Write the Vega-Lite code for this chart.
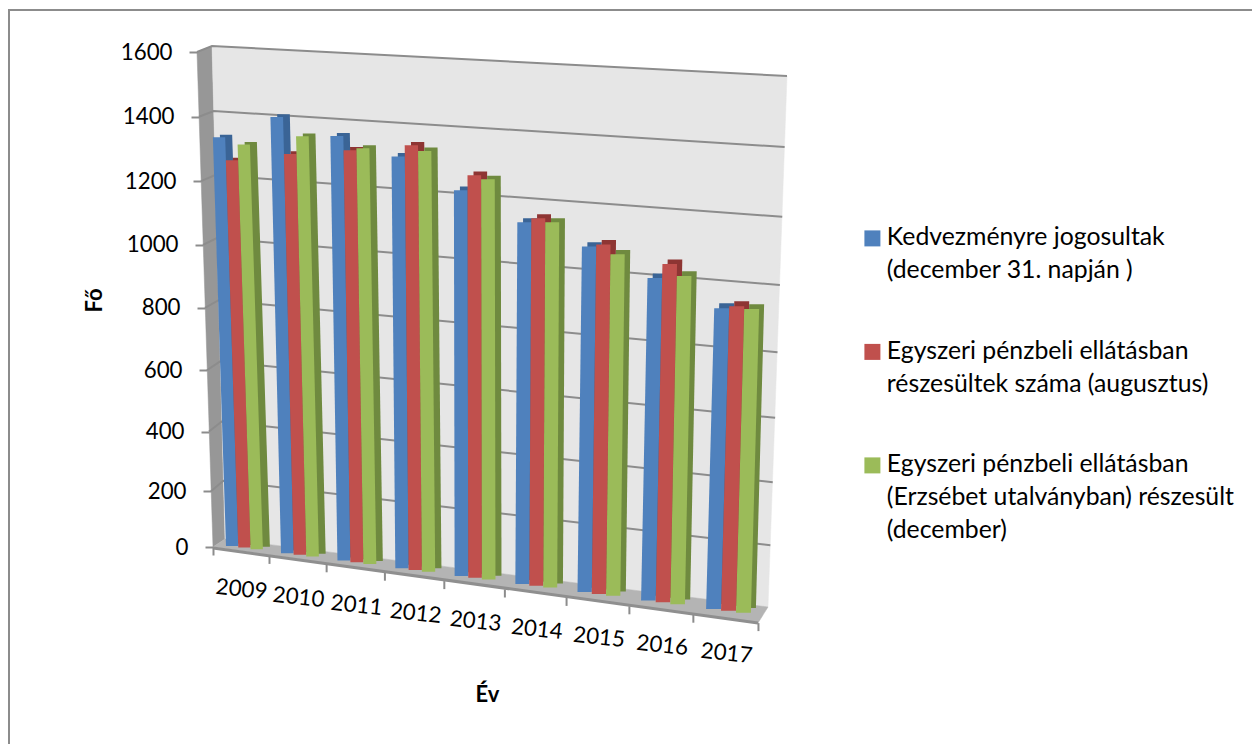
{"$schema":"https://vega.github.io/schema/vega-lite/v6.json","width":1252,"height":744,"padding":0,"autosize":{"type":"none"},"background":"#ffffff","config":{"font":"Lato","view":{"stroke":null},"style":{"guide-label":{"lineHeight":33}}},
"datasets":{
"bars":[
{"year":2009,"series":"Kedvezményre jogosultak (december 31. napján )","value":1333},{"year":2009,"series":"Egyszeri pénzbeli ellátásban részesültek száma (augusztus)","value":1266},{"year":2009,"series":"Egyszeri pénzbeli ellátásban (Erzsébet utalványban) részesült (december)","value":1320},
{"year":2010,"series":"Kedvezményre jogosultak (december 31. napján )","value":1407},{"year":2010,"series":"Egyszeri pénzbeli ellátásban részesültek száma (augusztus)","value":1298},{"year":2010,"series":"Egyszeri pénzbeli ellátásban (Erzsébet utalványban) részesült (december)","value":1358},
{"year":2011,"series":"Kedvezményre jogosultak (december 31. napján )","value":1361},{"year":2011,"series":"Egyszeri pénzbeli ellátásban részesültek száma (augusztus)","value":1323},{"year":2011,"series":"Egyszeri pénzbeli ellátásban (Erzsébet utalványban) részesült (december)","value":1334},
{"year":2012,"series":"Kedvezményre jogosultak (december 31. napján )","value":1312},{"year":2012,"series":"Egyszeri pénzbeli ellátásban részesültek száma (augusztus)","value":1351},{"year":2012,"series":"Egyszeri pénzbeli ellátásban (Erzsébet utalványban) részesült (december)","value":1339},
{"year":2013,"series":"Kedvezményre jogosultak (december 31. napján )","value":1223},{"year":2013,"series":"Egyszeri pénzbeli ellátásban részesültek száma (augusztus)","value":1274},{"year":2013,"series":"Egyszeri pénzbeli ellátásban (Erzsébet utalványban) részesült (december)","value":1267},
{"year":2014,"series":"Kedvezményre jogosultak (december 31. napján )","value":1141},{"year":2014,"series":"Egyszeri pénzbeli ellátásban részesültek száma (augusztus)","value":1159},{"year":2014,"series":"Egyszeri pénzbeli ellátásban (Erzsébet utalványban) részesült (december)","value":1152},
{"year":2015,"series":"Kedvezményre jogosultak (december 31. napján )","value":1084},{"year":2015,"series":"Egyszeri pénzbeli ellátásban részesültek száma (augusztus)","value":1096},{"year":2015,"series":"Egyszeri pénzbeli ellátásban (Erzsébet utalványban) részesült (december)","value":1072},
{"year":2016,"series":"Kedvezményre jogosultak (december 31. napján )","value":1006},{"year":2016,"series":"Egyszeri pénzbeli ellátásban részesültek száma (augusztus)","value":1054},{"year":2016,"series":"Egyszeri pénzbeli ellátásban (Erzsébet utalványban) részesült (december)","value":1024},
{"year":2017,"series":"Kedvezményre jogosultak (december 31. napján )","value":934},{"year":2017,"series":"Egyszeri pénzbeli ellátásban részesültek száma (augusztus)","value":946},{"year":2017,"series":"Egyszeri pénzbeli ellátásban (Erzsébet utalványban) részesült (december)","value":943}
],
"levels":[{"level":200},{"level":400},{"level":600},{"level":800},{"level":1000},{"level":1200},{"level":1400},{"level":1600}],
"walls":[
{"shape":"side","corner":0,"edge":0,"level":0},{"shape":"side","corner":1,"edge":1,"level":0},{"shape":"side","corner":2,"edge":1,"level":1600},{"shape":"side","corner":3,"edge":0,"level":1600},
{"shape":"back","corner":0,"edge":1,"level":0},{"shape":"back","corner":1,"edge":2,"level":0},{"shape":"back","corner":2,"edge":2,"level":1600},{"shape":"back","corner":3,"edge":1,"level":1600},
{"shape":"floor","corner":0,"edge":0,"level":0},{"shape":"floor","corner":1,"edge":1,"level":0},{"shape":"floor","corner":2,"edge":2,"level":0},{"shape":"floor","corner":3,"edge":3,"level":0},
{"shape":"front","corner":0,"edge":0,"level":0},{"shape":"front","corner":1,"edge":3,"level":0}
]
},
"layer":[
{"layer":[
{"data":{"name":"walls"},"transform":[{"filter":"datum.shape=='side'"},
{"calculate":"datum.edge==0?213-0.01*datum.level:datum.edge==1?225-0.008125*datum.level:datum.edge==2?768+0.011875*datum.level:758","as":"px"},
{"calculate":"datum.edge==0?547-495*pow(datum.level/1600,1.05):datum.edge==1?539-datum.level*(0.2889+1.2e-5*datum.level):datum.edge==2?607-datum.level*(0.3053+1.66e-5*datum.level):623","as":"py"}],
"mark":{"type":"line","interpolate":"linear-closed","fill":"#979797","stroke":"#979797","strokeWidth":0.5},
"encoding":{"x":{"field":"px","type":"quantitative","scale":{"domain":[0,1252],"nice":false,"zero":false},"axis":null},"y":{"field":"py","type":"quantitative","scale":{"domain":[744,0],"nice":false,"zero":false},"axis":null},"order":{"field":"corner"}}},
{"data":{"name":"walls"},"transform":[{"filter":"datum.shape=='back'"},
{"calculate":"datum.edge==0?213-0.01*datum.level:datum.edge==1?225-0.008125*datum.level:datum.edge==2?768+0.011875*datum.level:758","as":"px"},
{"calculate":"datum.edge==0?547-495*pow(datum.level/1600,1.05):datum.edge==1?539-datum.level*(0.2889+1.2e-5*datum.level):datum.edge==2?607-datum.level*(0.3053+1.66e-5*datum.level):623","as":"py"}],
"mark":{"type":"line","interpolate":"linear-closed","fill":"#e6e6e6","stroke":"#e6e6e6","strokeWidth":0.5},
"encoding":{"x":{"field":"px","type":"quantitative","scale":{"domain":[0,1252],"nice":false,"zero":false},"axis":null},"y":{"field":"py","type":"quantitative","scale":{"domain":[744,0],"nice":false,"zero":false},"axis":null},"order":{"field":"corner"}}},
{"data":{"name":"walls"},"transform":[{"filter":"datum.shape=='floor'"},
{"calculate":"datum.edge==0?213-0.01*datum.level:datum.edge==1?225-0.008125*datum.level:datum.edge==2?768+0.011875*datum.level:758","as":"px"},
{"calculate":"datum.edge==0?547-495*pow(datum.level/1600,1.05):datum.edge==1?539-datum.level*(0.2889+1.2e-5*datum.level):datum.edge==2?607-datum.level*(0.3053+1.66e-5*datum.level):623","as":"py"}],
"mark":{"type":"line","interpolate":"linear-closed","fill":"#b4b4b4","stroke":"#b4b4b4","strokeWidth":0.5},
"encoding":{"x":{"field":"px","type":"quantitative","scale":{"domain":[0,1252],"nice":false,"zero":false},"axis":null},"y":{"field":"py","type":"quantitative","scale":{"domain":[744,0],"nice":false,"zero":false},"axis":null},"order":{"field":"corner"}}},
{"data":{"name":"walls"},"transform":[{"filter":"datum.shape=='front'"},
{"calculate":"datum.edge==0?213:758","as":"px"},
{"calculate":"datum.edge==0?548:623","as":"py"}],
"mark":{"type":"line","stroke":"#8f8f8f","strokeWidth":3},
"encoding":{"x":{"field":"px","type":"quantitative","scale":{"domain":[0,1252],"nice":false,"zero":false},"axis":null},"y":{"field":"py","type":"quantitative","scale":{"domain":[744,0],"nice":false,"zero":false},"axis":null},"order":{"field":"px"}}},
{"data":{"name":"levels"},"transform":[{"calculate":"[0,1,2]","as":"edge"},{"flatten":["edge"]},
{"calculate":"datum.edge==0?213-0.01*datum.level:datum.edge==1?225-0.008125*datum.level:768+0.011875*datum.level","as":"px"},
{"calculate":"datum.edge==0?547-495*pow(datum.level/1600,1.05):datum.edge==1?539-datum.level*(0.2889+1.2e-5*datum.level):607-datum.level*(0.3053+1.66e-5*datum.level)","as":"py"}],
"mark":{"type":"line","stroke":"#8c8c8c","strokeWidth":2},
"encoding":{"x":{"field":"px","type":"quantitative","scale":{"domain":[0,1252],"nice":false,"zero":false},"axis":null},"y":{"field":"py","type":"quantitative","scale":{"domain":[744,0],"nice":false,"zero":false},"axis":null},"detail":{"field":"level"},"order":{"field":"edge"}}},
{"data":{"name":"bars"},"transform":[
{"calculate":"datum.year-2009","as":"i"},
{"calculate":"datum.series[0]=='K'?0:indexof(datum.series,'augusztus')>=0?1:2","as":"slot"},
{"calculate":"[0,1]","as":"edge"},{"flatten":["edge"]},
{"calculate":"226+54.3*datum.i+0.714*datum.i*datum.i+datum.slot*(12.3+0.33*datum.i)","as":"xb"},
{"calculate":"datum.edge*datum.value*(-0.00985+0.00232*datum.i)+datum.xb+7-0.25*datum.i","as":"xl"},
{"calculate":"datum.xl+12.3+0.33*datum.i","as":"xr"},
{"calculate":"546+0.131*(datum.xb-226)-datum.edge*datum.value*(0.293+1.03e-5*datum.value)*(1+0.008*datum.i)-2.5-0.3*datum.i","as":"yy"},
{"calculate":"datum.slot==0?'#3a6496':datum.slot==1?'#8e3533':'#6f8a3f'","as":"shade"}],
"mark":{"type":"area","orient":"horizontal"},
"encoding":{"y":{"field":"yy","type":"quantitative","scale":{"domain":[744,0],"nice":false,"zero":false},"axis":null},"x":{"field":"xl","type":"quantitative","scale":{"domain":[0,1252],"nice":false,"zero":false},"axis":null},"x2":{"field":"xr"},"detail":[{"field":"year"},{"field":"slot"}],"fill":{"field":"shade","type":"nominal","scale":null,"legend":null}}},
{"data":{"name":"bars"},"transform":[
{"calculate":"datum.year-2009","as":"i"},
{"calculate":"datum.series[0]=='K'?0:indexof(datum.series,'augusztus')>=0?1:2","as":"slot"},
{"calculate":"[0,1]","as":"edge"},{"flatten":["edge"]},
{"calculate":"226+54.3*datum.i+0.714*datum.i*datum.i+datum.slot*(12.3+0.33*datum.i)","as":"xb"},
{"calculate":"datum.edge*datum.value*(-0.00985+0.00232*datum.i)+datum.xb","as":"xl"},
{"calculate":"datum.xl+12.3+0.33*datum.i","as":"xr"},
{"calculate":"546+0.131*(datum.xb-226)-datum.edge*datum.value*(0.293+1.03e-5*datum.value)*(1+0.008*datum.i)","as":"yy"}],
"mark":{"type":"area","orient":"horizontal"},
"encoding":{"y":{"field":"yy","type":"quantitative","scale":{"domain":[744,0],"nice":false,"zero":false},"axis":null},"x":{"field":"xl","type":"quantitative","scale":{"domain":[0,1252],"nice":false,"zero":false},"axis":null},"x2":{"field":"xr"},"detail":[{"field":"year"}],
"color":{"field":"series","type":"nominal","sort":["Kedvezményre jogosultak (december 31. napján )","Egyszeri pénzbeli ellátásban részesültek száma (augusztus)","Egyszeri pénzbeli ellátásban (Erzsébet utalványban) részesült (december)"],"scale":{"domain":["Kedvezményre jogosultak (december 31. napján )","Egyszeri pénzbeli ellátásban részesültek száma (augusztus)","Egyszeri pénzbeli ellátásban (Erzsébet utalványban) részesült (december)"],"range":["#4f81bd","#c0504d","#9bbb59"]},
"legend":{"title":null,"orient":"none","legendX":860,"legendY":226,"symbolType":"square","symbolSize":256,"symbolStrokeWidth":0,"labelFontSize":24.8,"labelColor":"#000000","labelFont":"Lato","labelLimit":500,"rowPadding":21.5,"gridAlign":"all","labelOffset":2,"labelExpr":"datum.label[0]=='K'?['Kedvezményre jogosultak','(december 31. napján )']:indexof(datum.label,'augusztus')>=0?['Egyszeri pénzbeli ellátásban','részesültek száma (augusztus)']:['Egyszeri pénzbeli ellátásban','(Erzsébet utalványban) részesült','(december)']","labelFontWeight":"normal","labelBaseline":"middle"}}}}
]},
{"data":{"name":"bars"},"mark":{"type":"point","opacity":0},
"encoding":{
"x":{"field":"year","type":"quantitative","scale":{"domain":[2008.5,2017.5],"range":[213,758],"nice":false,"zero":false},
"axis":{"orient":"bottom","offset":-197,"zindex":1,"values":[2008.5,2009.5,2010.5,2011.5,2012.5,2013.5,2014.5,2015.5,2016.5,2017.5],"domain":false,"grid":false,"tickColor":"#8c8c8c","tickWidth":2,"labelFontSize":22.3,"labelColor":"#000000","labelAngle":6,"labelAlign":"center","labelBaseline":"middle","labelOverlap":false,"labelBound":false,"labelFlush":false,"labelExpr":"datum.value<2017?toString(datum.value+0.5):''",
"title":"Év","titleFontSize":22,"titleFontWeight":"bold","titleColor":"#000000","titleX":487,"titleY":147,"titleBaseline":"middle","titleAlign":"center",
"encoding":{"labels":{"x":{"value":{"signal":"241+56.48*(datum.value-2008.5)+0.518*(datum.value-2008.5)*(datum.value-2008.5)"}},"y":{"value":{"signal":"42+8*(datum.value-2008.5)"}}},
"ticks":{"x":{"value":{"signal":"213+55.43*(datum.value-2008.5)+0.569*(datum.value-2008.5)*(datum.value-2008.5)"}},"x2":{"value":{"signal":"213+55.43*(datum.value-2008.5)+0.569*(datum.value-2008.5)*(datum.value-2008.5)"}},"y":{"value":{"signal":"8.4*(datum.value-2008.5)"}},"y2":{"value":{"signal":"8.4*(datum.value-2008.5)+8"}}}}}},
"y":{"field":"value","type":"quantitative","scale":{"type":"pow","exponent":1.05,"domain":[0,1600],"range":[547,52],"nice":false,"zero":false},
"axis":{"orient":"left","offset":-213,"zindex":1,"values":[0,200,400,600,800,1000,1200,1400,1600],"format":"d","domain":false,"grid":false,"tickColor":"#8c8c8c","tickWidth":2,"tickSize":8,"labelFontSize":22.3,"labelColor":"#000000","labelPadding":17,"labelOverlap":false,"labelBound":false,"labelFlush":false,
"title":"Fő","titleFontSize":22,"titleFontWeight":"bold","titleColor":"#000000","titleX":-119,"titleY":300,"titleBaseline":"middle","titleAlign":"center",
"encoding":{"labels":{"dx":{"value":{"signal":"-datum.value/100"}}},"ticks":{"x":{"value":{"signal":"-datum.value/100-8"}},"x2":{"value":{"signal":"-datum.value/100"}}}}}}}},
{"data":{"values":[{"f":1}]},"mark":{"type":"rule","stroke":"#8c8c8c","strokeWidth":2},"encoding":{"x":{"value":9},"y":{"value":9},"y2":{"value":744}}},
{"data":{"values":[{"f":1}]},"mark":{"type":"rule","stroke":"#8c8c8c","strokeWidth":2},"encoding":{"y":{"value":10},"x":{"value":9},"x2":{"value":1252}}}
],
"resolve":{"scale":{"x":"independent","y":"independent"}}
}
